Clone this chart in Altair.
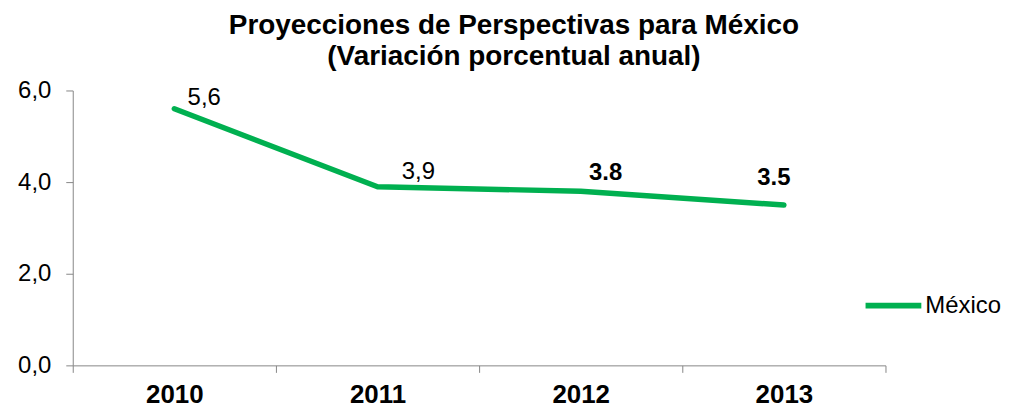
import altair as alt
import pandas as pd

years = ["2010", "2011", "2012", "2013"]
values = [5.6, 3.9, 3.8, 3.5]
labels = ["5,6", "3,9", "3.8", "3.5"]
series = ["México", "México", "México", "México"]
y_ticks = [0, 2, 4, 6]

df = pd.DataFrame({"year": years, "value": values, "label": labels, "serie": series})

FONT = "Liberation Sans"
GREEN = "#00B050"
GRAY = "#868686"

x_enc = alt.X(
    "year:O",
    sort=years,
    scale=alt.Scale(type="band", paddingInner=0, paddingOuter=0),
    axis=alt.Axis(
        title=None, labelAngle=0, labelFont=FONT, labelFontSize=26,
        labelFontWeight="bold", labelColor="black", tickBand="extent",
        domainColor=GRAY, tickColor=GRAY, tickSize=7, labelPadding=9,
    ),
)
y_enc = alt.Y(
    "value:Q",
    scale=alt.Scale(domain=[0, 6], nice=False),
    axis=alt.Axis(
        title=None, values=y_ticks, grid=False, labelFont=FONT, labelFontSize=24,
        labelColor="black", domainColor=GRAY, tickColor=GRAY, tickSize=7,
        labelPadding=15,
        labelExpr="replace(format(datum.value, '.1f'), '.', ',')",
    ),
)

base = alt.Chart(df)

line = base.mark_line(strokeWidth=5.5, strokeCap="round", strokeJoin="round").encode(
    x=x_enc,
    y=y_enc,
    color=alt.Color(
        "serie:N",
        scale=alt.Scale(domain=["México"], range=[GREEN]),
        legend=alt.Legend(
            title=None, orient="none", legendX=793, legendY=185, padding=0,
            symbolType="stroke", symbolSize=3136, symbolStrokeWidth=6,
            labelFont=FONT, labelFontSize=24, labelColor="black", labelOffset=1,
        ),
    ),
)

offsets = {"2010": (30, -11, "normal", 24), "2011": (41, -15, "normal", 24),
           "2012": (25, -18, "bold", 24), "2013": (-10, -27, "bold", 24)}

text_layers = []
for yr in years:
    dx, dy, fw, fs = offsets[yr]
    text_layers.append(
        base.transform_filter(alt.datum.year == yr).mark_text(
            font=FONT, fontSize=fs, fontWeight=fw, color="black",
            align="center", baseline="middle", dx=dx, dy=dy,
        ).encode(x=x_enc, y=y_enc, text="label:N")
    )

chart = alt.layer(line, *text_layers).properties(
    width=816,
    height=276,
    autosize=alt.AutoSizeParams(type="none"),
    padding={"left": 65, "top": 82, "right": 119, "bottom": 45},
    title=alt.TitleParams(
        text=["Proyecciones de Perspectivas para México", "(Variación porcentual anual)"],
        font=FONT, fontSize=28, fontWeight="bold", color="black",
        anchor="middle", dx=35, lineHeight=31, offset=8,
    ),
).configure_view(stroke=None)

chart.save("out.html", embed_options={"renderer": "svg", "actions": False})
